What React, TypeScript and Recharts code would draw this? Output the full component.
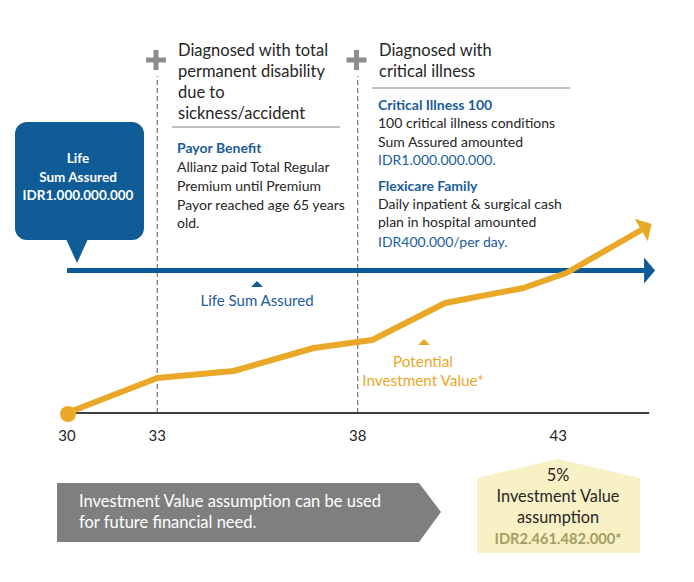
import { ComposedChart, Line, XAxis, YAxis, ReferenceLine, ReferenceDot } from "recharts"

// x positions are in years; the start of the axis is drawn squeezed, so age 30 sits at 30.75
const tickPositions = [30.75, 33, 38, 43]
const tickLabels = ["30", "33", "38", "43"]

const investmentAge = [30.75, 33, 34.9, 36.9, 38.36, 40.18, 42.13, 43.2, 45.07]
const investmentValue = [0, 8.75, 10.5, 16.25, 18.25, 27.5, 31.25, 35, 45.75]

const sumAssuredAge = [30.75, 45.14]
const sumAssuredValue = [35.6, 35.6]

const eventAges = [33, 38]

const investmentData = investmentAge.map((age, i) => ({ age, value: investmentValue[i] }))
const sumAssuredData = sumAssuredAge.map((age, i) => ({ age, value: sumAssuredValue[i] }))

const BLUE = "#0d5a98"
const ORANGE = "#e9a828"
const TEXT = "#262626"
const TITLE_BLUE = "#1a5d9c"
const FONT = "Lato, 'Open Sans', sans-serif"

let prevPoint = { x: 0, y: 0 }

function renderInvestmentDot(props: any) {
  const { cx, cy, index } = props
  const last = investmentData.length - 1
  if (index === 0) {
    prevPoint = { x: cx, y: cy }
    return <circle key="start" cx={cx + 1} cy={cy + 1} r={8} fill={ORANGE} />
  }
  if (index === last) {
    const a = Math.atan2(cy - prevPoint.y, cx - prevPoint.x)
    const len = 12
    const half = 13
    const tip = [cx + len * Math.cos(a), cy + len * Math.sin(a)]
    const l = [cx - half * Math.sin(a), cy + half * Math.cos(a)]
    const r = [cx + half * Math.sin(a), cy - half * Math.cos(a)]
    return <polygon key="head" points={`${tip.join(",")} ${l.join(",")} ${r.join(",")}`} fill={ORANGE} />
  }
  prevPoint = { x: cx, y: cy }
  return <g key={`d${index}`} />
}

function renderSumAssuredDot(props: any) {
  const { cx, cy, index } = props
  if (index !== sumAssuredData.length - 1) return <g key={`b${index}`} />
  return <polygon key="bhead" points={`${cx},${cy - 13} ${cx + 11},${cy} ${cx},${cy + 13}`} fill={BLUE} />
}

function PlusShape(props: any) {
  const { cx, cy } = props
  return (
    <g fill="#8c8c8c">
      <rect x={cx - 10} y={cy - 2.5} width={20} height={5} />
      <rect x={cx - 2.5} y={cy - 10} width={5} height={20} />
    </g>
  )
}

export default function App() {
  return (
    <div style={{ position: "absolute", left: 0, top: 0, width: 694, height: 582, background: "#fff", fontFamily: FONT }}>
      <ComposedChart width={694} height={582} margin={{ top: 13, right: 35.5, bottom: 139, left: 67 }}>
        <XAxis
          type="number"
          dataKey="age"
          domain={[30.75, 45.5]}
          ticks={tickPositions}
          tickFormatter={(v: number) => tickLabels[tickPositions.indexOf(v)]}
          axisLine={false}
          tickLine={false}
          tickMargin={11}
          height={30}
          tick={{ fill: TEXT, fontSize: 15, fontFamily: FONT }}
          allowDuplicatedCategory={false}
        />
        <YAxis hide type="number" domain={[0, 100]} />
        <ReferenceLine segment={[{ x: 30.75, y: 0 }, { x: 45.27, y: 0 }]} stroke="#000" strokeWidth={1.3} />
        {eventAges.map((age) => (
          <ReferenceLine
            key={age}
            segment={[{ x: age, y: 0 }, { x: age, y: 84.25 }]}
            stroke="#595959"
            strokeDasharray="5 3"
          />
        ))}
        {eventAges.map((age) => (
          <ReferenceDot key={`p${age}`} x={age - 0.03} y={88.25} shape={PlusShape} />
        ))}
        <Line
          data={sumAssuredData}
          dataKey="value"
          stroke={BLUE}
          strokeWidth={5}
          dot={renderSumAssuredDot}
          activeDot={false}
          isAnimationActive={false}
        />
        <Line
          data={investmentData}
          dataKey="value"
          stroke={ORANGE}
          strokeWidth={6}
          strokeLinejoin="round"
          dot={renderInvestmentDot}
          activeDot={false}
          isAnimationActive={false}
        />
      </ComposedChart>

      <svg width={694} height={582} style={{ position: "absolute", left: 0, top: 0, pointerEvents: "none" }} fontFamily={FONT}>
        {/* headers */}
        <g fontSize={16.5} fill={TEXT}>
          <text x={178} y={56}>Diagnosed with total</text>
          <text x={178} y={77}>permanent disability</text>
          <text x={178} y={98}>due to</text>
          <text x={178} y={119}>sickness/accident</text>
          <text x={379} y={56}>Diagnosed with</text>
          <text x={379} y={77}>critical illness</text>
        </g>
        <line x1={172} x2={340} y1={127} y2={127} stroke="#808080" />
        <line x1={372} x2={570} y1={88} y2={88} stroke="#808080" />

        <g fontSize={14} fill={TEXT}>
          <text x={177} y={153} fontWeight={700} fill={TITLE_BLUE}>Payor Benefit</text>
          <text x={177} y={172}>Allianz paid Total Regular</text>
          <text x={177} y={191}>Premium until Premium</text>
          <text x={177} y={210}>Payor reached age 65 years</text>
          <text x={177} y={228}>old.</text>

          <text x={378} y={110} fontWeight={700} fill={TITLE_BLUE}>Critical Illness 100</text>
          <text x={378} y={128}>100 critical illness conditions</text>
          <text x={378} y={147}>Sum Assured amounted</text>
          <text x={378} y={165} fill={TITLE_BLUE}>IDR1.000.000.000.</text>
          <text x={378} y={191} fontWeight={700} fill={TITLE_BLUE}>Flexicare Family</text>
          <text x={378} y={209}>Daily inpatient &amp; surgical cash</text>
          <text x={378} y={227}>plan in hospital amounted</text>
          <text x={378} y={247} fill={TITLE_BLUE}>IDR400.000/per day.</text>
        </g>

        {/* callout */}
        <rect x={15} y={122} width={129} height={118} rx={12} fill="#0f5c96" />
        <polygon points="66,239 77,263 88,239" fill="#0f5c96" />
        <g fontSize={13.5} fontWeight={700} fill="#fff" textAnchor="middle">
          <text x={78} y={163}>Life</text>
          <text x={78} y={182}>Sum Assured</text>
          <text x={78} y={200}>IDR1.000.000.000</text>
        </g>

        {/* series labels */}
        <polygon points="251,287 263,287 257,281" fill={BLUE} />
        <text x={257} y={306} fontSize={15} fill={TITLE_BLUE} textAnchor="middle">Life Sum Assured</text>
        <polygon points="418,345 430,345 424,339" fill={ORANGE} />
        <g fontSize={15.3} fill={ORANGE} textAnchor="middle">
          <text x={423} y={367}>Potential</text>
          <text x={423} y={386}>Investment Value*</text>
        </g>

        {/* bottom boxes */}
        <polygon points="57,483 419,483 441,512 419,542 57,542" fill="#7f7f7f" />
        <g fontSize={16.5} fill="#fff">
          <text x={79} y={507}>Investment Value assumption can be used</text>
          <text x={79} y={528}>for future financial need.</text>
        </g>
        <polygon points="477,478 558,459 640,478 640,553 477,553" fill="#f8f1c6" />
        <g fontSize={16.3} fill={TEXT} textAnchor="middle">
          <text x={558} y={481}>5%</text>
          <text x={558} y={502}>Investment Value</text>
          <text x={558} y={523}>assumption</text>
          <text x={558} y={544} fontSize={14.7} fontWeight={700} fill="#a39d62">IDR2.461.482.000*</text>
        </g>
      </svg>
    </div>
  )
}
